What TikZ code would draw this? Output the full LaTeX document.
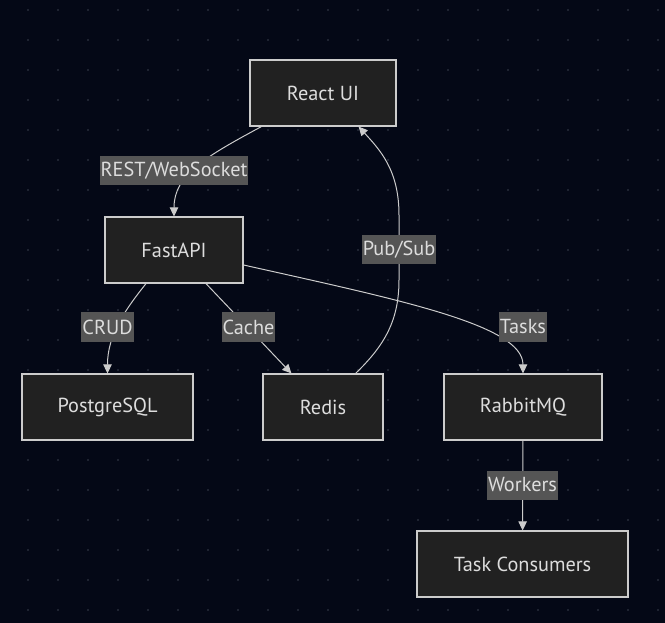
\documentclass[tikz,border=0pt]{standalone}
\usepackage{fontspec}
\setmainfont{PT Sans}
\usetikzlibrary{arrows.meta}
\definecolor{bgdark}{RGB}{4,8,22}
\definecolor{dotgray}{RGB}{40,46,60}
\definecolor{boxfill}{RGB}{33,33,33}
\definecolor{boxline}{RGB}{204,204,204}
\definecolor{lblfill}{RGB}{85,85,85}
\definecolor{txtgray}{RGB}{221,221,221}
\tikzstyle{box}=[draw=boxline, line width=1.2pt, fill=boxfill, text=txtgray, minimum height=66pt, font=\fontsize{20.3}{24}\selectfont]
\tikzstyle{lbl}=[fill=lblfill, text=txtgray, inner sep=1pt, minimum height=29pt, font=\fontsize{20.3}{24}\selectfont]
\tikzstyle{edge}=[draw=boxline, line width=1pt, -{Triangle[length=9pt,width=8.5pt]}]

\begin{document}
\begin{tikzpicture}[x=1pt,y=-1pt]
\fill[bgdark] (0,0) rectangle (665,623);
\foreach \i in {0,...,21} {
	\foreach \j in {0,...,20} {
		\fill[dotgray] (28+30*\i, 10+30*\j) circle (1.1pt);
	}
}
% boxes
\node[box, minimum width=146pt] (react) at (323,93) {React UI};
\node[box, minimum width=138pt] (fast) at (174,250) {FastAPI};
\node[box, minimum width=171pt] (pg) at (107.5,407) {PostgreSQL};
\node[box, minimum width=120pt] (redis) at (323,407) {Redis};
\node[box, minimum width=158pt] (rabbit) at (523,407) {RabbitMQ};
\node[box, minimum width=211pt] (consumers) at (522.5,564) {Task Consumers};
% connectors
\draw[edge] ([xshift=12pt]react.south west) .. controls (205,157) and (174,175) .. (fast.north);
\draw[edge] ([xshift=-28pt]fast.south) .. controls (125,310) and (107.5,335) .. (pg.north);
\draw[edge] ([xshift=32pt]fast.south) -- ([xshift=29pt]redis.north west);
\draw[edge] ([yshift=-15pt]fast.east) .. controls (400,300) and (523,325) .. (rabbit.north);
\draw[edge] ([xshift=-28pt]redis.north east) .. controls (385,345) and (399,320) .. (399,280) -- (399,215) .. controls (399,170) and (380,150) .. ([xshift=-38pt]react.south east);
\draw[edge] (rabbit) -- (consumers);
% edge labels
\node[lbl] (lrest) at (174,171) {REST/WebSocket};
\node[lbl] (lpub) at (399,250) {Pub/Sub};
\node[lbl] (lcrud) at (107.5,327) {CRUD};
\node[lbl] (lcache) at (248.5,327) {Cache};
\node[lbl] (ltasks) at (523,327) {Tasks};
\node[lbl] (lwork) at (522.5,485) {Workers};
\end{tikzpicture}
\end{document}
